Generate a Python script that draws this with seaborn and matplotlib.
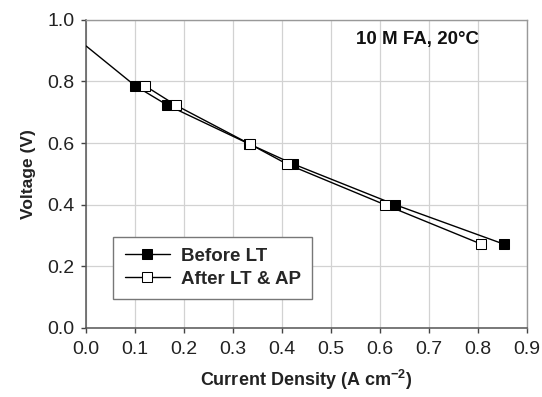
import matplotlib
matplotlib.use("Agg")
import matplotlib.pyplot as plt
import seaborn as sns
import pandas as pd

# Polarisation data (current density in A cm^-2, cell voltage in V)
before_j = [0.0, 0.100, 0.166, 0.333, 0.423, 0.631, 0.853]
before_v = [0.915, 0.786, 0.723, 0.597, 0.532, 0.400, 0.272]
after_j = [0.120, 0.183, 0.334, 0.410, 0.610, 0.807]
after_v = [0.786, 0.723, 0.597, 0.532, 0.400, 0.272]
x_ticks = [0.0, 0.1, 0.2, 0.3, 0.4, 0.5, 0.6, 0.7, 0.8, 0.9]
y_ticks = [0.0, 0.2, 0.4, 0.6, 0.8, 1.0]

sns.set_theme(style="whitegrid")
plt.rcParams["font.family"] = ["Liberation Sans", "DejaVu Sans"]
plt.rcParams["mathtext.fontset"] = "custom"
plt.rcParams["mathtext.rm"] = "Liberation Sans"
plt.rcParams["mathtext.bf"] = "Liberation Sans:bold"
plt.rcParams["xtick.labelsize"] = 14
plt.rcParams["ytick.labelsize"] = 14

fig = plt.figure(figsize=(5.42, 3.97), dpi=100)
ax = fig.add_axes([0.159, 0.174, 0.813, 0.776])

df_before = pd.DataFrame({"j": before_j, "v": before_v})
df_after = pd.DataFrame({"j": after_j, "v": after_v})

# OCV point at j = 0 carries no marker
sns.lineplot(data=df_before, x="j", y="v", ax=ax, color="black", lw=1.0,
             marker="s", markersize=7.5, markerfacecolor="black",
             markeredgecolor="black", markevery=list(range(1, len(before_j))),
             label="Before LT", zorder=3)
sns.lineplot(data=df_after, x="j", y="v", ax=ax, color="black", lw=1.0,
             marker="s", markersize=7.5, markerfacecolor="white",
             markeredgecolor="black", label="After LT & AP", zorder=4)

ax.set_xlim(0, 0.9)
ax.set_ylim(0, 1.0)
ax.set_xticks(x_ticks)
ax.set_yticks(y_ticks)
ax.set_xticklabels([f"{t:.1f}" for t in x_ticks])
ax.set_yticklabels([f"{t:.1f}" for t in y_ticks])
ax.grid(True, color="#d2d2d2", lw=0.9)
ax.tick_params(axis="both", direction="out", length=3.5, width=1, color="#444444",
               bottom=True, left=True, labelcolor="#222222", labelsize=14)
ax.tick_params(axis="x", pad=6)
ax.tick_params(axis="y", pad=5)
for lab in ax.get_xticklabels() + ax.get_yticklabels():
    lab.set_fontsize(14)

for side in ("left", "bottom"):
    ax.spines[side].set_color("#555555")
    ax.spines[side].set_linewidth(1.1)
for side in ("top", "right"):
    ax.spines[side].set_color("#999999")
    ax.spines[side].set_linewidth(1.0)

ax.set_xlabel("Current Density (A cm$^{\\mathbf{-2}}$)", fontsize=13,
              fontweight="bold", labelpad=7, color="#222222")
ax.set_ylabel("Voltage (V)", fontsize=12.5, fontweight="bold", labelpad=8,
              color="#222222")

ax.text(0.613, 0.935, "10 M FA, 20°C", transform=ax.transAxes, fontsize=13.5,
        fontweight="bold", va="center", ha="left", color="#111111")

leg = ax.legend(loc="lower left", bbox_to_anchor=(0.062, 0.094), fancybox=False,
                frameon=True, fontsize=13.5, handlelength=2.4, borderpad=0.6,
                labelspacing=0.3, handletextpad=0.6, borderaxespad=0)
leg.get_frame().set_edgecolor("#777777")
leg.get_frame().set_linewidth(1.0)
leg.get_frame().set_alpha(1.0)
for t in leg.get_texts():
    t.set_fontweight("bold")

fig.savefig("out.png", dpi=100)
